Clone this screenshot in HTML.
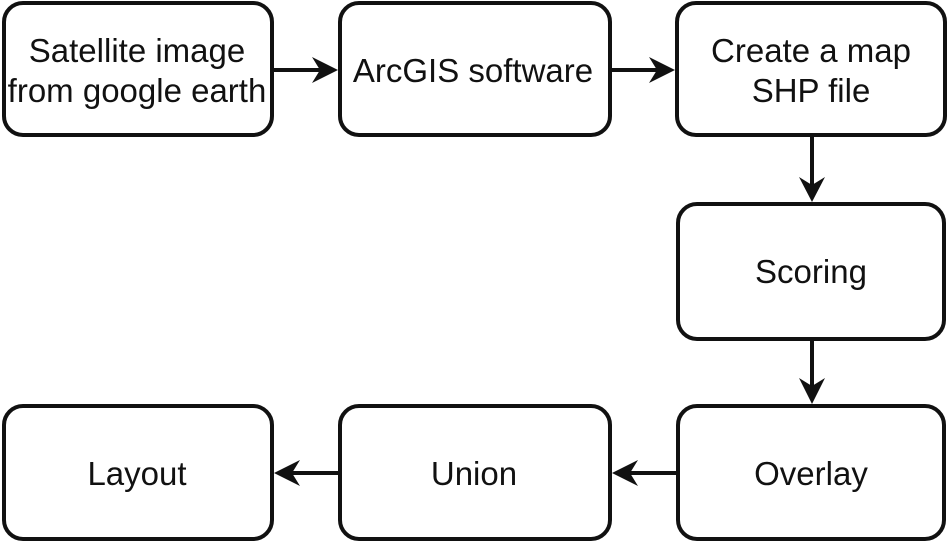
<!DOCTYPE html>
<html>
<head>
<meta charset="utf-8">
<style>
html,body{margin:0;padding:0;background:#fff;}
svg{display:block;}
text{font-family:"Liberation Sans",Arial,sans-serif;font-size:33px;fill:#111;text-anchor:middle;}
</style>
</head>
<body>
<svg width="948" height="542" viewBox="0 0 948 542" xmlns="http://www.w3.org/2000/svg">
<g fill="#fff" stroke="#111" stroke-width="4">
<rect x="4" y="3" width="268" height="132" rx="19" ry="19"/>
<rect x="340" y="3" width="270" height="132" rx="19" ry="19"/>
<rect x="677" y="3" width="268" height="132" rx="19" ry="19"/>
<rect x="678" y="204" width="266" height="135" rx="19" ry="19"/>
<rect x="4" y="406" width="268" height="133" rx="19" ry="19"/>
<rect x="340" y="406" width="270" height="133" rx="19" ry="19"/>
<rect x="678" y="406" width="266" height="133" rx="19" ry="19"/>
</g>
<g stroke="#111" stroke-width="4" fill="none">
<line x1="274" y1="70" x2="322" y2="70"/>
<line x1="612" y1="70" x2="659" y2="70"/>
<line x1="812" y1="137" x2="812" y2="186"/>
<line x1="812" y1="341" x2="812" y2="389"/>
<line x1="676" y1="473" x2="628" y2="473"/>
<line x1="338" y1="473" x2="290" y2="473"/>
</g>
<g fill="#111">
<polygon points="338,70 312,57 320,70 312,83"/>
<polygon points="675,70 649,57 657,70 649,83"/>
<polygon points="812,202 799,177 812,185 825,177"/>
<polygon points="812,404 799,378 812,386 825,378"/>
<polygon points="612,473 638,460 630,473 638,486"/>
<polygon points="274,473 300,460 292,473 300,486"/>
</g>
<text x="137" y="62">Satellite image</text>
<text x="137" y="102">from google earth</text>
<text x="473" y="82">ArcGIS software</text>
<text x="811" y="62">Create a map</text>
<text x="811" y="102">SHP file</text>
<text x="811" y="283">Scoring</text>
<text x="137" y="485">Layout</text>
<text x="474" y="485">Union</text>
<text x="811" y="485">Overlay</text>
</svg>
</body>
</html>
